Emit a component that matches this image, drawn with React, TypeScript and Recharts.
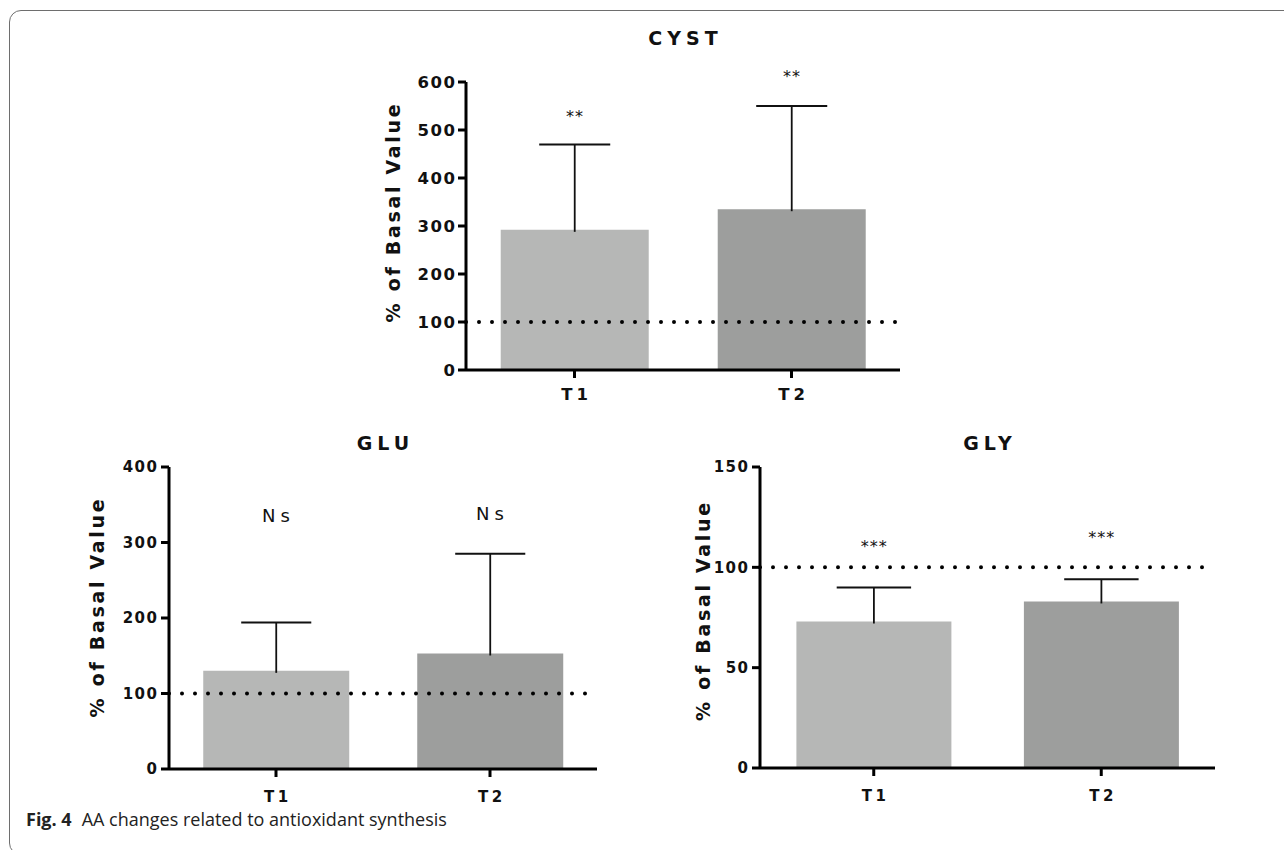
import React from 'react';
import { BarChart, Bar, XAxis, YAxis, Cell, ReferenceLine, ReferenceDot } from 'recharts';

// time points
const categories = ['T1', 'T2'];

// CYST (% of basal), upper SD
const cystMean = [292, 335];
const cystErr = [178, 215];
const cystSig = ['**', '**'];
const cystSigY = [536, 619];
const cystTicks = [0, 100, 200, 300, 400, 500, 600];

// GLU
const gluMean = [130, 153];
const gluErr = [64, 132];
const gluSig = ['Ns', 'Ns'];
const gluSigY = [336, 338];
const gluTicks = [0, 100, 200, 300, 400];

// GLY
const glyMean = [73, 83];
const glyErr = [17, 11];
const glySig = ['***', '***'];
const glySigY = [112.5, 117];
const glyTicks = [0, 50, 100, 150];

const basal = 100;
const barColors = ['#b6b7b6', '#9d9e9d'];
const FONT = '"DejaVu Sans", Verdana, sans-serif';
const INK = '#111';

const ErrShape = (p: any) => {
  if (!p || p.height == null) return null;
  const cx = p.x + p.width / 2;
  const cap = p.width * 0.24;
  return (
    <g>
      <line x1={cx} y1={p.y + p.height + 2} x2={cx} y2={p.y} stroke={INK} strokeWidth={1.8} />
      <line x1={cx - cap} y1={p.y} x2={cx + cap} y2={p.y} stroke={INK} strokeWidth={2} />
    </g>
  );
};

function Panel(props: any) {
  const { title, mean, err, sig, sigY, ticks, g, tickFs, tickLs, sigFs, sigLs, sigDy } = props;
  const data = categories.map((c, i) => ({ name: c, mean: mean[i], err: err[i] }));
  const max = ticks[ticks.length - 1];
  const plotLeft = g.left + g.yw;
  const plotRight = g.left + g.width - g.right;
  const titleCx = (plotLeft + plotRight) / 2;

  const yTick = (p: any) => (
    <text x={p.x} y={p.y} dx={tickLs} dy="0.36em" textAnchor="end" fontFamily={FONT} fontWeight="bold"
      fontSize={tickFs} letterSpacing={tickLs} fill={INK}>
      {p.payload.value}
    </text>
  );
  const xTick = (p: any) => (
    <text x={p.x} y={p.y} dx={g.xls / 2} dy="0.73em" textAnchor="middle" fontFamily={FONT} fontWeight="bold"
      fontSize={g.xfs} letterSpacing={g.xls} fill={INK}>
      {p.payload.value}
    </text>
  );
  const yLabel = (p: any) => {
    const vb = p && p.viewBox;
    if (!vb) return null;
    const x = vb.x + g.labelX;
    const y = vb.y + vb.height / 2 + g.labelDy;
    return (
      <text x={x} y={y} dy="0.36em" transform={`rotate(-90 ${x} ${y})`} textAnchor="middle" fontFamily={FONT}
        fontWeight="bold" fontSize={19} letterSpacing={2.7} fill={INK}>
        {'% of Basal Value'}
      </text>
    );
  };

  return (
    <>
      <div
        style={{
          position: 'absolute', left: titleCx - 100, width: 200, top: g.titleY - 9.5, textAlign: 'center',
          fontFamily: FONT, fontWeight: 'bold', fontSize: 19, lineHeight: '19px', letterSpacing: 5,
          paddingLeft: 5, boxSizing: 'border-box', color: INK,
        }}
      >
        {title}
      </div>
      <div style={{ position: 'absolute', left: g.left, top: g.top }}>
        <BarChart width={g.width} height={g.height} data={data}
          margin={{ top: g.mt, right: g.right, bottom: 0, left: 0 }} barCategoryGap="16%">
          <Bar dataKey="mean" stackId="s" isAnimationActive={false}>
            {data.map((d, i) => (
              <Cell key={d.name} fill={barColors[i]} />
            ))}
          </Bar>
          <Bar dataKey="err" stackId="s" isAnimationActive={false} shape={ErrShape} fill="none" />
          <ReferenceLine y={basal} stroke="#000" strokeWidth={4} strokeDasharray="0 13" strokeLinecap="round" />
          {categories.map((c, i) => (
            <ReferenceDot key={c} x={c} y={sigY[i]} r={0} ifOverflow="visible"
              shape={(p: any) => (
                <text x={p.cx} y={p.cy} dx={sigLs / 2} dy={sigDy} textAnchor="middle" fontFamily={FONT}
                  fontSize={sigFs} letterSpacing={sigLs} fill={INK}>
                  {sig[i]}
                </text>
              )}
            />
          ))}
          <XAxis dataKey="name" height={g.xh} tickSize={8} tickMargin={g.xtm}
            axisLine={{ stroke: '#000', strokeWidth: 3 }} tickLine={{ stroke: '#000', strokeWidth: 3 }} tick={xTick} />
          <YAxis type="number" domain={[0, max]} ticks={ticks} width={g.yw} tickSize={8} tickMargin={g.ytm}
            axisLine={{ stroke: '#000', strokeWidth: 3 }} tickLine={{ stroke: '#000', strokeWidth: 3 }} tick={yTick}
            label={{ content: yLabel }} />
        </BarChart>
      </div>
    </>
  );
}

export default function App() {
  return (
    <div style={{ position: 'fixed', left: 0, top: 0, width: 1284, height: 850, overflow: 'hidden', background: '#fff' }}>
      <div
        style={{
          position: 'absolute', left: 9, top: 10, width: 1300, height: 843, border: '1.5px solid #6e6e6e',
          borderRadius: 12,
        }}
      />
      <Panel title="CYST" mean={cystMean} err={cystErr} sig={cystSig} sigY={cystSigY} ticks={cystTicks}
        tickFs={16.5} tickLs={1.5} sigFs={16} sigLs={1} sigDy="0.59em"
        g={{ left: 350, top: 20, width: 580, height: 390, yw: 116, right: 30, mt: 62, xh: 40, xtm: 10, ytm: 3,
          xfs: 16.5, xls: 4, labelX: 43, labelDy: -14, titleY: 38 }} />
      <Panel title="GLU" mean={gluMean} err={gluErr} sig={gluSig} sigY={gluSigY} ticks={gluTicks}
        tickFs={15} tickLs={1.5} sigFs={18} sigLs={5} sigDy="0.36em"
        g={{ left: 70, top: 420, width: 540, height: 390, yw: 99, right: 13, mt: 47, xh: 41, xtm: 14, ytm: 4,
          xfs: 15, xls: 3.5, labelX: 27, labelDy: -11, titleY: 443 }} />
      <Panel title="GLY" mean={glyMean} err={glyErr} sig={glySig} sigY={glySigY} ticks={glyTicks}
        tickFs={15} tickLs={1.5} sigFs={16} sigLs={1} sigDy="0.59em"
        g={{ left: 670, top: 420, width: 560, height: 390, yw: 90, right: 15, mt: 47, xh: 42, xtm: 14, ytm: 4,
          xfs: 15, xls: 3.5, labelX: 33, labelDy: -7, titleY: 443 }} />
      <div style={{ position: 'absolute', left: 26, top: 810, fontFamily: '"Open Sans", sans-serif', fontSize: 18,
        lineHeight: '18px', color: '#222', whiteSpace: 'nowrap' }}>
        <b>Fig. 4</b>
        <span style={{ marginLeft: 10 }}>AA changes related to antioxidant synthesis</span>
      </div>
    </div>
  );
}
